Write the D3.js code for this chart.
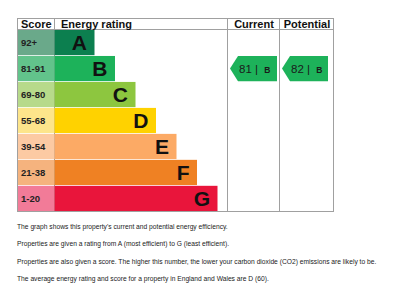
<!DOCTYPE html>
<html>
<head>
<meta charset="utf-8">
<script src="https://cdn.jsdelivr.net/npm/d3@7"></script>
<style>
  body { margin: 0; background: #fff; }
  svg { display: block; font-family: "Liberation Sans", Arial, sans-serif; }
</style>
</head>
<body>
<svg id="chart" width="400" height="292"></svg>
<script>
var bands = ['A', 'B', 'C', 'D', 'E', 'F', 'G'];
var scoreRanges = ['92+', '81-91', '69-80', '55-68', '39-54', '21-38', '1-20'];
var barColors = ['#0c7f4f', '#1db25a', '#8dc63f', '#ffd200', '#fcaa65', '#ef8123', '#e9153b'];
var scoreColors = ['#6aa98a', '#62c38b', '#b7da8b', '#fde58b', '#fccaa3', '#f5b37e', '#f27b98'];
var currentScore = 81, currentBand = 'B';
var potentialScore = 82, potentialBand = 'B';
var notes = [
  "The graph shows this property's current and potential energy efficiency.",
  "Properties are given a rating from A (most efficient) to G (least efficient).",
  "Properties are also given a score. The higher this number, the lower your carbon dioxide (CO2) emissions are likely to be.",
  "The average energy rating and score for a property in England and Wales are D (60)."
];

var svg = d3.select('#chart');
var left = 17, scoreRight = 54, ratingRight = 227, currentRight = 279, right = 333;
var tableTop = 18, headTop = 30, bottom = 211;

var y = d3.scaleBand().domain(bands).range([headTop, bottom]).paddingInner(0.03);
var barEnd = d3.scaleLinear().domain([0, bands.length - 1]).range([94, 217]);
var line = '#a0a0a0';

// table lines
[tableTop + 0.5, headTop - 0.5, bottom + 0.5].forEach(function(yy) {
  svg.append('line').attr('x1', left).attr('x2', right + 1).attr('y1', yy).attr('y2', yy).attr('stroke', line);
});
[left, scoreRight, ratingRight, currentRight, right].forEach(function(x) {
  svg.append('line').attr('x1', x + 0.5).attr('x2', x + 0.5).attr('y1', tableTop).attr('y2', bottom + 1).attr('stroke', line);
});

var head = svg.append('g').attr('font-weight', 'bold').attr('font-size', 11).attr('fill', '#111');
head.append('text').attr('x', 21).attr('y', 28).text('Score');
head.append('text').attr('x', 61).attr('y', 28).text('Energy rating');
head.append('text').attr('x', (ratingRight + currentRight) / 2 + 1).attr('y', 28).attr('text-anchor', 'middle').text('Current');
head.append('text').attr('x', (currentRight + right) / 2 + 1).attr('y', 28).attr('text-anchor', 'middle').text('Potential');

// rows
var rows = svg.selectAll('.row').data(bands).enter().append('g').attr('class', 'row');
rows.append('rect')
  .attr('x', left + 1).attr('y', function(d) { return y(d); })
  .attr('width', scoreRight - left - 0.5).attr('height', y.bandwidth())
  .attr('fill', function(d, i) { return scoreColors[i]; });
rows.append('rect')
  .attr('x', scoreRight + 0.5).attr('y', function(d) { return y(d); })
  .attr('width', function(d, i) { return barEnd(i) - scoreRight; }).attr('height', y.bandwidth())
  .attr('fill', function(d, i) { return barColors[i]; });
rows.append('text')
  .attr('x', 21).attr('y', function(d) { return y(d) + y.bandwidth() / 2 + 3.5; })
  .attr('font-size', 9.5).attr('font-weight', 'bold').attr('fill', '#222')
  .text(function(d, i) { return scoreRanges[i]; });
rows.append('text')
  .attr('x', function(d, i) { return barEnd(i) - 7; })
  .attr('y', function(d) { return y(d) + y.bandwidth() / 2 + 7.5; })
  .attr('text-anchor', 'end').attr('font-size', 21).attr('font-weight', 'bold').attr('fill', '#111')
  .text(function(d) { return d; });

// arrows
function arrow(x0, x1, band, score) {
  var yt = y(band), h = y.bandwidth(), tip = 8;
  var i = bands.indexOf(band);
  var g = svg.append('g');
  g.append('path')
    .attr('d', d3.line()([[x0, yt + h / 2], [x0 + tip, yt], [x1, yt], [x1, yt + h], [x0 + tip, yt + h]]) + 'Z')
    .attr('fill', barColors[i]);
  var t = g.append('text').attr('x', x0 + tip + 1).attr('y', yt + h / 2 + 4).attr('fill', '#1a1a1a');
  t.append('tspan').attr('font-size', 11.5).text(score + ' | ');
  t.append('tspan').attr('font-size', 8.5).attr('font-weight', 'bold').attr('dx', 3).text(band);
}
arrow(230, 277, currentBand, currentScore);
arrow(282, 328, potentialBand, potentialScore);

// notes
svg.selectAll('.note').data(notes).enter().append('text')
  .attr('class', 'note')
  .attr('x', left).attr('y', function(d, i) { return 229 + i * 17.3; })
  .attr('font-size', 6.7).attr('fill', '#222')
  .text(function(d) { return d; });
</script>
</body>
</html>
